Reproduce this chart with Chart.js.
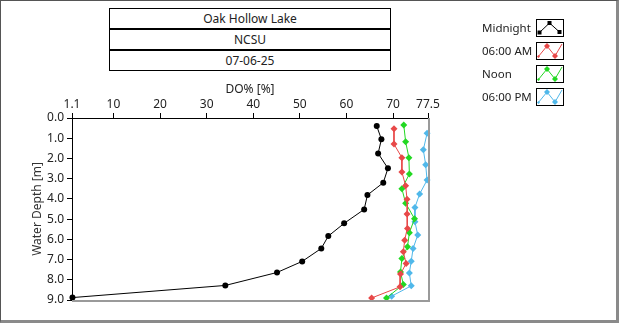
<!DOCTYPE html>
<html>
<head>
<meta charset="utf-8">
<script src="https://cdn.jsdelivr.net/npm/chart.js@4/dist/chart.umd.min.js"></script>
<style>
  html, body { margin: 0; padding: 0; background: #fff; }
  #panel {
    position: relative; width: 620px; height: 324px; background: #fff; overflow: hidden;
    font-family: "Noto Sans", sans-serif; font-size: 12px; color: #222;
  }
  #frame {
    position: absolute; left: 0; top: 0; width: 619px; height: 323px; box-sizing: border-box;
    border-left: 1px solid #555; border-top: 1px solid #555;
    border-right: 3px solid #8a8a8a; border-bottom: 3px solid #8a8a8a;
  }
  #plot { position: absolute; left: 0; top: 0; }
  #header {
    position: absolute; left: 109px; top: 8px; width: 282px; box-sizing: border-box;
    border: 1px solid #000; background: #fff;
  }
  #header div { height: 19px; line-height: 19px; text-align: center; }
  #header div + div { border-top: 2px solid #000; }
  #legend { position: absolute; left: 482px; top: 19px; width: 90px; font-size: 11.5px; }
  .item { position: relative; height: 23px; }
  .item span { position: absolute; left: 0; top: 0; line-height: 18px; white-space: nowrap; }
  .item canvas { position: absolute; left: 54px; top: 0; }
</style>
</head>
<body>
<div id="panel">
  <div id="frame"></div>
  <canvas id="plot" width="620" height="324"></canvas>
  <div id="header">
    <div>Oak Hollow Lake</div>
    <div>NCSU</div>
    <div>07-06-25</div>
  </div>
  <div id="legend"></div>
</div>
<script>
// depth profiles, one (depth, DO%) pair per reading
const seriesNames = ['Midnight', '06:00 AM', 'Noon', '06:00 PM'];
const seriesColors = ['#000000', '#e84848', '#22d822', '#50b8ea'];

const depthMidnight = [0.40, 1.05, 1.75, 2.49, 3.20, 3.81, 4.52, 5.21, 5.84, 6.45, 7.09, 7.64, 8.28, 8.88];
const doMidnight    = [66.5, 67.5, 66.8, 68.9, 67.9, 64.5, 63.8, 59.5, 56.1, 54.6, 50.5, 45.1, 34.0, 1.2];

const depthSixAm = [0.53, 1.29, 1.96, 2.67, 3.35, 4.02, 4.75, 5.46, 6.04, 6.62, 7.19, 7.72, 8.35, 8.90];
const doSixAm    = [70.2, 70.2, 71.9, 71.9, 72.7, 73.0, 73.0, 73.1, 72.5, 72.2, 72.8, 71.6, 71.5, 65.4];

const depthNoon = [0.35, 1.17, 1.96, 2.77, 3.50, 4.21, 4.98, 5.68, 6.37, 6.95, 7.61, 8.23, 8.90];
const doNoon    = [72.3, 72.7, 73.4, 73.5, 71.9, 72.7, 74.6, 73.5, 73.1, 71.9, 71.6, 72.2, 68.6];

const depthSixPm = [0.76, 1.57, 2.31, 3.07, 3.76, 4.42, 5.13, 5.79, 6.45, 7.08, 7.66, 8.30, 8.81];
const doSixPm    = [77.3, 76.5, 77.0, 77.3, 75.7, 74.7, 74.7, 75.3, 74.3, 73.9, 73.5, 73.9, 69.7];

const doTicks = [1.1, 10, 20, 30, 40, 50, 60, 70, 77.5];
const depthMin = 0, depthMax = 9;

const FONT = { family: 'Noto Sans', size: 12 };

function pairs(xs, ys) {
  return xs.map((x, i) => ({ x: x, y: ys[i] }));
}

function series(i, xs, ys) {
  return {
    label: seriesNames[i],
    data: pairs(xs, ys),
    showLine: true,
    borderColor: seriesColors[i],
    backgroundColor: seriesColors[i],
    borderWidth: 1,
    pointStyle: i === 0 ? 'circle' : 'rectRot',
    pointRadius: i === 0 ? 3 : 3.5,
    pointBorderWidth: 0,
    clip: false
  };
}

// grey right/bottom edges of the plot frame
const frameEdges = {
  id: 'frameEdges',
  afterDraw(chart) {
    const { ctx, chartArea: a } = chart;
    ctx.save();
    ctx.strokeStyle = '#9a9a9a';
    ctx.lineWidth = 2;
    ctx.beginPath();
    ctx.moveTo(a.left, a.bottom + 1);
    ctx.lineTo(a.right + 1, a.bottom + 1);
    ctx.lineTo(a.right + 1, a.top);
    ctx.stroke();
    ctx.restore();
  }
};

new Chart(document.getElementById('plot'), {
  type: 'scatter',
  data: {
    datasets: [
      series(0, doMidnight, depthMidnight),
      series(1, doSixAm, depthSixAm),
      series(2, doNoon, depthNoon),
      series(3, doSixPm, depthSixPm)
    ]
  },
  options: {
    responsive: false,
    animation: false,
    devicePixelRatio: 1,
    layout: { padding: { left: 0, top: 0, right: 192, bottom: 24 } },
    plugins: { legend: { display: false }, tooltip: { enabled: false } },
    scales: {
      x: {
        type: 'linear',
        position: 'top',
        min: doTicks[0],
        max: doTicks[doTicks.length - 1],
        afterBuildTicks: (scale) => { scale.ticks = doTicks.map(v => ({ value: v })); },
        afterFit: (scale) => { scale.height = 118; },
        border: { display: true, color: '#000', width: 1 },
        grid: { drawOnChartArea: false, drawTicks: true, tickLength: 5, color: '#000' },
        ticks: { font: FONT, color: '#222', padding: 1, maxRotation: 0, autoSkip: false,
                 callback: (v) => String(v) },
        title: { display: true, text: 'DO% [%]', font: FONT, color: '#222', padding: { top: 82 } }
      },
      y: {
        type: 'linear',
        reverse: true,
        min: depthMin,
        max: depthMax,
        afterFit: (scale) => { scale.width = 72; },
        border: { display: true, color: '#000', width: 1 },
        grid: { drawOnChartArea: false, drawTicks: true, tickLength: 5, color: '#000' },
        ticks: { font: FONT, color: '#222', padding: 3, stepSize: 1,
                 callback: (v) => Number(v).toFixed(1) },
        title: { display: true, text: 'Water Depth [m]', font: FONT, color: '#333', padding: { top: 30 } }
      }
    }
  },
  plugins: [frameEdges]
});

// legend swatches: small polylines like the plotted traces
const legend = document.getElementById('legend');
seriesNames.forEach((name, i) => {
  const row = document.createElement('div');
  row.className = 'item';
  const label = document.createElement('span');
  label.textContent = name;
  const c = document.createElement('canvas');
  c.width = 28; c.height = 18;
  row.appendChild(label);
  row.appendChild(c);
  legend.appendChild(row);

  const g = c.getContext('2d');
  g.fillStyle = '#fff';
  g.fillRect(0, 0, 28, 18);
  g.strokeStyle = '#000';
  g.lineWidth = 1;
  g.strokeRect(0.5, 0.5, 27, 17);
  g.strokeStyle = seriesColors[i];
  g.fillStyle = seriesColors[i];
  g.beginPath();
  if (i === 0) {
    g.moveTo(3.5, 13.5); g.lineTo(13.5, 4); g.lineTo(23.5, 13);
    g.stroke();
    [[3.5, 13.5], [13.5, 4], [23.5, 13]].forEach(([x, y]) => g.fillRect(x - 2, y - 2, 4, 4));
  } else {
    g.moveTo(2, 15); g.lineTo(11, 4); g.lineTo(19, 14); g.lineTo(26, 2);
    g.stroke();
    [[2.5, 14.5], [11, 4], [19, 14]].forEach(([x, y], k) => {
      const r = k === 0 ? 1.5 : 3;
      g.beginPath();
      g.moveTo(x, y - r); g.lineTo(x + r, y); g.lineTo(x, y + r); g.lineTo(x - r, y);
      g.closePath(); g.fill();
    });
  }
});
</script>
</body>
</html>
